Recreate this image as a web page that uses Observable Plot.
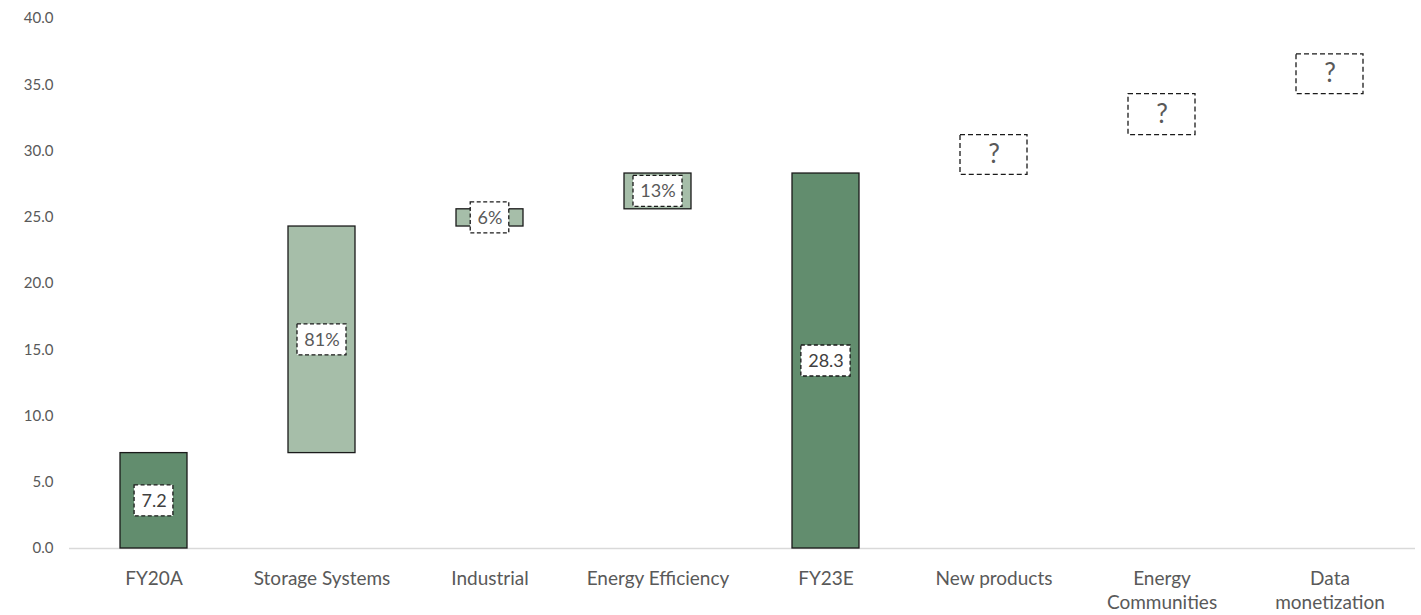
<!DOCTYPE html>
<html><head><meta charset="utf-8">
<script src="https://cdn.jsdelivr.net/npm/d3@7"></script>
<script src="https://cdn.jsdelivr.net/npm/@observablehq/plot@0.6"></script>
<style>body{margin:0;background:#fff;overflow:hidden;}</style>
</head><body><div id="chart"></div>
<script>
const categories = ["FY20A","Storage Systems","Industrial","Energy Efficiency","FY23E","New products","Energy Communities","Data monetization"];
const axisLabels = ["FY20A","Storage Systems","Industrial","Energy Efficiency","FY23E","New products","Energy\nCommunities","Data\nmonetization"];
const barStart = [0, 7.2, 24.3, 25.6, 0, 28.2, 31.2, 34.3];
const barEnd   = [7.2, 24.3, 25.6, 28.3, 28.3, 31.2, 34.3, 37.3];
const barKind  = ["total","change","change","change","total","unknown","unknown","unknown"];
const labels   = ["7.2","81%","6%","13%","28.3","?","?","?"];
const yTicks   = [0,5,10,15,20,25,30,35,40];

const rows = categories.map((c,i)=>({cat:c, y1:barStart[i], y2:barEnd[i], kind:barKind[i], label:labels[i], mid:(barStart[i]+barEnd[i])/2}));

const FONT = "Lato, 'Open Sans', sans-serif";
const W = 1421, H = 615, mL = 69, mR = 6;
const step = (W - mL - mR) / categories.length;
const bw = step * 0.4;

const ctx = document.createElement("canvas").getContext("2d");
ctx.font = "18px Lato";
const boxW = s => ctx.measureText(s).width + 14;

const fills = {total:"#628D6E", change:"#A6BEA9"};
const known = rows.filter(d=>d.kind!=="unknown");
const unknown = rows.filter(d=>d.kind==="unknown");

const labelMarks = known.flatMap(d => {
  const inset = (bw - boxW(d.label)) / 2;
  return [
    Plot.barY([d], {x:"cat", y1:"mid", y2:"mid", insetTop:-15.5, insetBottom:-15.5, insetLeft:inset, insetRight:inset,
      fill:"#fff", stroke:"#1a1a1a", strokeWidth:1.3, strokeDasharray:"4,2.5"}),
    Plot.text([d], {x:"cat", y:"mid", text:"label", fontSize:18, fontFamily:FONT,
      fill: d.kind==="total" ? "#404040" : "#595959"})
  ];
});

const chart = Plot.plot({
  width: W, height: H,
  marginLeft: mL, marginRight: mR, marginTop: 18, marginBottom: 67,
  style: {fontFamily: FONT, background:"#fff"},
  x: {domain: categories, paddingInner: 0.6, paddingOuter: 0.3, axis: null},
  y: {domain: [0, 40], axis: null},
  marks: [
    Plot.ruleY([0], {stroke:"#d9d9d9", strokeWidth:1.3}),
    Plot.axisY({ticks: yTicks, tickFormat: d3.format(".1f"), tickSize: 0, tickPadding: 16, fontSize: 15, fill:"#595959", fontFamily:FONT, label: null}),
    Plot.axisX({tickSize: 0, tickPadding: 19, tickFormat: d => axisLabels[categories.indexOf(d)], fontSize: 19, lineHeight: 1.28, fill:"#595959", fontFamily:FONT, label: null}),
    Plot.barY(known, {x:"cat", y1:"y1", y2:"y2", fill: d => fills[d.kind], stroke:"#1a1a1a", strokeWidth:1.3}),
    Plot.barY(unknown, {x:"cat", y1:"y1", y2:"y2", fill:"#fff", stroke:"#1a1a1a", strokeWidth:1.3, strokeDasharray:"5,3"}),
    Plot.text(unknown, {x:"cat", y:"mid", text:"label", fontSize:26, fontFamily:FONT, fill:"#595959"}),
    ...labelMarks
  ]
});
document.getElementById("chart").append(chart);
</script>
</body></html>
